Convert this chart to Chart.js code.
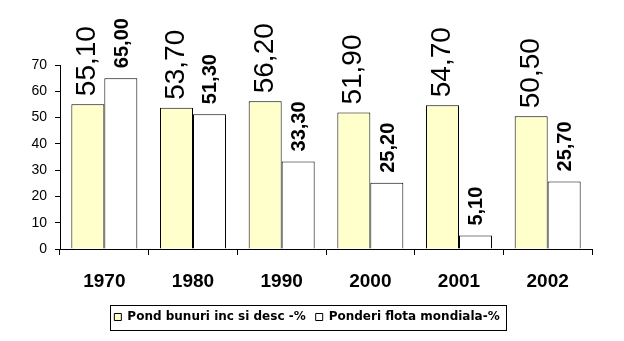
<!DOCTYPE html>
<html>
<head>
<meta charset="utf-8">
<script src="https://cdn.jsdelivr.net/npm/chart.js@4.4.1/dist/chart.umd.min.js"></script>
<style>
  body { margin: 0; background: #fff; }
  #wrap { width: 624px; height: 341px; }
</style>
</head>
<body>
<div id="wrap"><canvas id="chart" width="624" height="341"></canvas></div>
<script>
// data
const years = ['1970', '1980', '1990', '2000', '2001', '2002'];
const pondBunuri = [55.1, 53.7, 56.2, 51.9, 54.7, 50.5];
const ponderiFlota = [65.0, 51.3, 33.3, 25.2, 5.1, 25.7];
const yTicks = [0, 10, 20, 30, 40, 50, 60, 70];

const FONT = 'Liberation Sans, Arial, sans-serif';

function fmt(v) {
  return v.toFixed(2).replace('.', ',');
}

// rotated value labels above each bar
const barLabels = {
  id: 'barLabels',
  afterDatasetsDraw(chart) {
    const ctx = chart.ctx;
    chart.data.datasets.forEach((ds, i) => {
      const meta = chart.getDatasetMeta(i);
      const style = ds.labelStyle;
      meta.data.forEach((bar, j) => {
        ctx.save();
        ctx.translate(bar.x, bar.y - style.gap);
        ctx.rotate(-Math.PI / 2);
        ctx.font = style.font;
        ctx.fillStyle = '#000';
        ctx.textAlign = 'left';
        ctx.textBaseline = 'alphabetic';
        ctx.fillText(fmt(ds.data[j]), 0, style.shift);
        ctx.restore();
      });
    });
  }
};

// box round the legend, legend nudged right a bit
const legendBox = {
  id: 'legendBox',
  afterLayout(chart) {
    chart.legend.left += 11;
    chart.legend.right += 11;
  },
  afterDraw(chart) {
    const boxes = chart.legend.legendHitBoxes;
    if (!boxes || !boxes.length) return;
    const first = boxes[0];
    const last = boxes[boxes.length - 1];
    const x1 = first.left - 4.5;
    const x2 = last.left + last.width + 6.5;
    const y1 = first.top - 6.5;
    const y2 = first.top + first.height + 6.5;
    const ctx = chart.ctx;
    ctx.save();
    ctx.strokeStyle = '#000';
    ctx.lineWidth = 1;
    ctx.strokeRect(Math.round(x1) + 0.5, Math.round(y1) + 0.5, Math.round(x2 - x1), Math.round(y2 - y1));
    ctx.restore();
  }
};

const ctx = document.getElementById('chart');

new Chart(ctx, {
  type: 'bar',
  data: {
    labels: years,
    datasets: [{
      label: 'Pond bunuri inc si desc -%',
      data: pondBunuri,
      backgroundColor: '#FFFFCC',
      borderColor: '#000',
      borderWidth: 1,
      labelStyle: { font: '28px ' + FONT, gap: 8, shift: 7.5 }
    }, {
      label: 'Ponderi flota mondiala-%',
      data: ponderiFlota,
      backgroundColor: '#FFFFFF',
      borderColor: '#000',
      borderWidth: 1,
      labelStyle: { font: 'bold 20px ' + FONT, gap: 10, shift: 7 }
    }]
  },
  options: {
    responsive: false,
    animation: false,
    layout: { padding: { top: 65, right: 32, left: 0, bottom: 8 } },
    datasets: {
      bar: { categoryPercentage: 0.744, barPercentage: 1, borderSkipped: 'start' }
    },
    scales: {
      y: {
        min: 0,
        max: 70,
        afterFit: s => { s.width = 60; },
        afterBuildTicks: s => { s.ticks = yTicks.map(v => ({ value: v })); },
        ticks: { color: '#000', font: { family: FONT, size: 14 }, padding: 8 },
        grid: { drawOnChartArea: false, drawTicks: true, tickLength: 5, color: '#000' },
        border: { color: '#000', width: 1 }
      },
      x: {
        afterFit: s => { s.height = 52; },
        ticks: { color: '#000', font: { family: FONT, size: 19, weight: 'bold' }, padding: 15 },
        grid: { drawOnChartArea: false, drawTicks: true, tickLength: 6, color: '#000', offset: true },
        border: { color: '#000', width: 1 }
      }
    },
    plugins: {
      tooltip: { enabled: false },
      legend: {
        position: 'bottom',
        labels: {
          color: '#000',
          boxWidth: 7,
          boxHeight: 7,
          padding: 10,
          font: { family: 'DejaVu Sans', size: 12, weight: 'bold' }
        }
      }
    }
  },
  plugins: [barLabels, legendBox]
});
</script>
</body>
</html>
